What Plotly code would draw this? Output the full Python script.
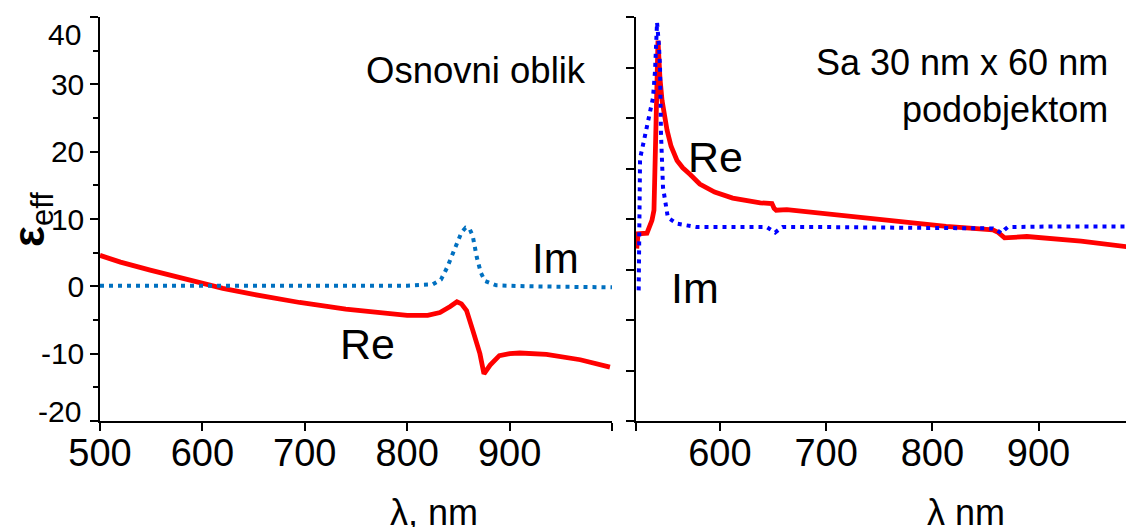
import plotly.graph_objects as go

# left panel: "Osnovni oblik"
left_lam_re = [500, 520, 549, 575, 598, 620, 650, 695, 740, 773, 800, 820, 832, 842,
               848.6, 853, 858, 864, 871, 875, 881, 890, 900, 910, 936, 969, 998]
left_re = [4.6, 3.6, 2.4, 1.4, 0.5, -0.3, -1.2, -2.4, -3.4, -3.9, -4.3, -4.3, -3.9, -3.0,
           -2.3, -2.6, -3.6, -6.5, -10.0, -13.0, -11.7, -10.3, -10.0, -9.9, -10.1, -10.9, -12.0]
left_lam_im = [500, 600, 700, 800, 825, 833, 839, 844, 849, 853, 857, 861, 864, 868,
               872, 876, 887, 920, 1000]
left_im = [0.1, 0.1, 0.1, 0.1, 0.3, 1.0, 2.8, 4.8, 6.8, 8.0, 8.7, 8.5, 7.5, 4.3,
           2.0, 0.8, 0.15, 0.0, -0.15]

# right panel: "Sa 30 nm x 60 nm podobjektom"
right_lam_re = [521.7, 522.9, 531.3, 536, 537.9, 539.8, 541.7, 543.5, 545.5, 550.2, 554,
                559.6, 565, 572, 581, 595, 612, 638, 649, 651, 653, 663, 700, 725, 750,
                788, 813, 857, 862, 868, 889, 940, 988]
right_re = [5.6, 7.8, 7.9, 9.8, 11.3, 25, 36.5, 31, 27.6, 23.2, 20.8,
            18.7, 17.6, 16.6, 15.2, 14.0, 13.1, 12.4, 12.3, 11.6, 11.3, 11.4, 10.8, 10.4, 9.9,
            9.3, 8.9, 8.4, 8.0, 7.2, 7.4, 6.7, 5.8]
right_lam_im = [523.5, 524, 524.5, 524.8, 527.6, 531, 534.2, 537, 538.9, 540.8, 542.5,
                543.6, 544.5, 546.4, 551, 559.6, 578, 610, 644, 648, 652, 656, 659, 700,
                800, 857, 861, 865, 868, 871, 920, 988]
right_im = [-0.6, 5, 12, 19, 21, 23.5, 26, 28, 32, 39.2, 36,
            32.5, 22.7, 14.7, 10.2, 9.3, 8.8, 8.8, 8.8, 8.4, 8.0, 8.5, 8.8, 8.8,
            8.7, 8.6, 8.3, 7.9, 8.4, 8.8, 8.9, 8.9]

left_ticks = [500, 600, 700, 800, 900, 1000]
left_labels = ["500", "600", "700", "800", "900", ""]
right_ticks = [521, 600, 700, 800, 900, 988]
right_labels = ["", "600", "700", "800", "900", ""]
left_top_ticks = [583.3, 666.7, 750, 833.3, 916.7]
right_top_ticks = [587.8, 653.6, 721.4, 787.2, 854, 920.8]
y_ticks = [-20, -10, 0, 10, 20, 30, 40]
# end labels are drawn as annotations, nudged inside the frame like in the original
y_labels = ["", "-10", "0", "10", "20", "30", ""]
right_y_ticks = [-20, -12.5, -5, 2.5, 10, 17.5, 25, 32.5, 40]

FONT = "Liberation Sans, Arial, sans-serif"
RED = "#FF0000"

fig = go.Figure()
fig.add_scatter(x=left_lam_re, y=left_re, mode="lines", xaxis="x", yaxis="y",
                line=dict(color=RED, width=4.8), showlegend=False)
fig.add_scatter(x=left_lam_im, y=left_im, mode="lines", xaxis="x", yaxis="y",
                line=dict(color="#0070C0", width=4, dash="4px,5px"), showlegend=False)
fig.add_scatter(x=right_lam_re, y=right_re, mode="lines", xaxis="x2", yaxis="y2",
                line=dict(color=RED, width=4.8), showlegend=False)
fig.add_scatter(x=right_lam_im, y=right_im, mode="lines", xaxis="x2", yaxis="y2",
                line=dict(color="#0000FF", width=4, dash="4px,5px"), showlegend=False)

axis_common = dict(showline=True, linecolor="black", linewidth=1.5, showgrid=False,
                   zeroline=False, ticks="outside", tickcolor="black", tickwidth=1.5,
                   automargin=False)

# the page body adds an 8px margin, so the figure is 8px smaller and shifted back
fig.update_layout(
    width=1126, height=519,
    margin=dict(l=92, r=2, t=9, b=106),
    paper_bgcolor="white", plot_bgcolor="white",
    font=dict(family=FONT, color="black"),
    xaxis=dict(domain=[0, 0.4961], range=[500, 1000], anchor="y",
               tickvals=left_ticks, ticktext=left_labels, ticklen=8,
               ticklabelstandoff=-10, tickfont=dict(size=38), **axis_common),
    xaxis3=dict(overlaying="x", side="top", anchor="y", range=[500, 1000],
                tickvals=left_top_ticks, showticklabels=False, ticklen=7, **axis_common),
    yaxis=dict(domain=[0, 1], range=[-20, 40], anchor="x", tickvals=y_ticks,
               ticktext=y_labels, ticklen=8, tickfont=dict(size=30),
               minor=dict(dtick=5, ticklen=5, ticks="outside", tickcolor="black"),
               **axis_common),
    yaxis3=dict(overlaying="y", side="right", anchor="x", range=[-20, 40],
                dtick=5, ticklen=5, showticklabels=False, **axis_common),
    xaxis2=dict(domain=[0.5194, 1], range=[521, 988], anchor="y2",
                tickvals=right_ticks, ticktext=right_labels, ticklen=8,
                ticklabelstandoff=-10, tickfont=dict(size=38), **axis_common),
    xaxis4=dict(overlaying="x2", side="top", anchor="y2", range=[521, 988],
                tickvals=right_top_ticks, showticklabels=False, ticklen=5, **axis_common),
    yaxis2=dict(domain=[0, 1], range=[-20, 40], anchor="x2", tickvals=right_y_ticks,
                showticklabels=False, ticklen=8, mirror="ticks", **axis_common),
)

annotations = [
    dict(text="40", x=-0.0165, y=37.4, xref="paper", yref="y",
         xanchor="right", yanchor="middle", font=dict(size=30)),
    dict(text="-20", x=-0.0165, y=-18.6, xref="paper", yref="y",
         xanchor="right", yanchor="middle", font=dict(size=30)),
    dict(text="Osnovni oblik", x=977, y=32.1, xref="x", yref="y",
         xanchor="right", yanchor="middle", font=dict(size=36.5)),
    dict(text="Im", x=945, y=4.1, xref="x", yref="y", font=dict(size=42)),
    dict(text="Re", x=761, y=-8.6, xref="x", yref="y", font=dict(size=43)),
    dict(text="Sa 30 nm x 60 nm<br>podobjektom", x=967, y=29.7, xref="x2", yref="y2",
         xanchor="right", yanchor="middle", align="right", font=dict(size=36)),
    dict(text="Re", x=596, y=19.2, xref="x2", yref="y2", font=dict(size=43)),
    dict(text="Im", x=576.5, y=-0.3, xref="x2", yref="y2", font=dict(size=43)),
    dict(text="λ, nm", x=826, y=-0.172, xref="x", yref="paper",
         xanchor="center", yanchor="top", font=dict(size=36)),
    dict(text="λ nm", x=832, y=-0.172, xref="x2", yref="paper",
         xanchor="center", yanchor="top", font=dict(size=36)),
    dict(text="<b>ε</b><sub>eff</sub>", x=-0.066, y=0.5, xref="paper", yref="paper",
         textangle=-90, xanchor="center", yanchor="middle", font=dict(size=44)),
]
for a in annotations:
    a.setdefault("showarrow", False)
fig.update_layout(annotations=annotations)

fig.write_html("out.html")
